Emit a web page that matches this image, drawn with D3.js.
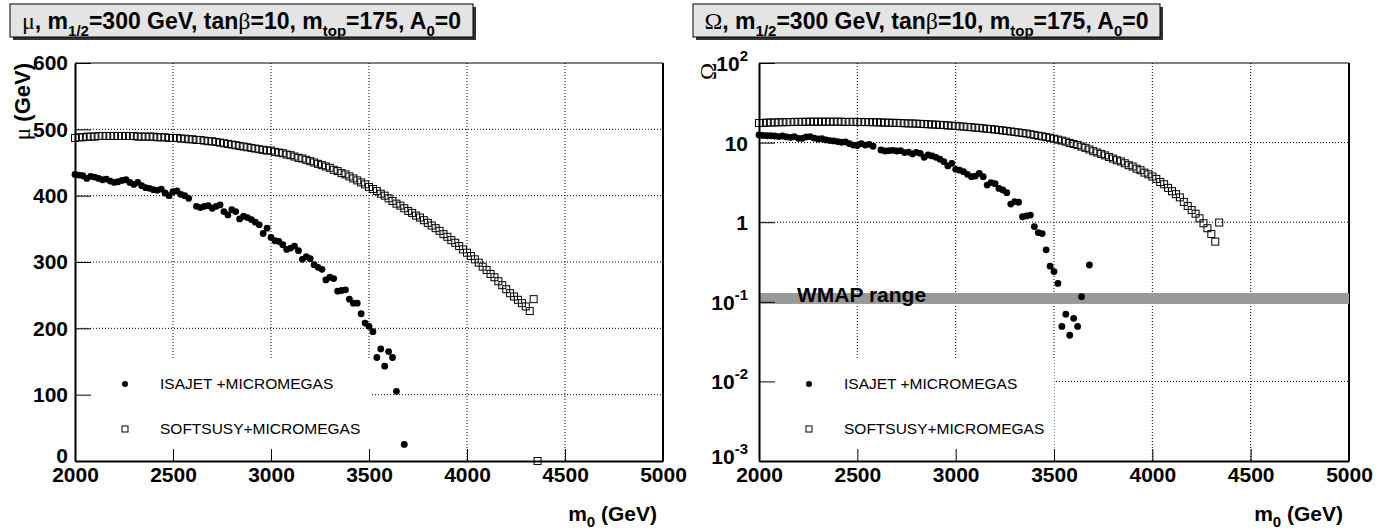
<!DOCTYPE html>
<html>
<head>
<meta charset="utf-8">
<script src="https://cdn.jsdelivr.net/npm/d3@7"></script>
<style>
  body { margin: 0; background: #fff; }
  text { font-family: "Liberation Sans", Arial, Helvetica, sans-serif; }
</style>
</head>
<body>
<script>
// m0 scan grid (GeV): first point and step
var m0Start = 2000, m0Step = 20;

// mu (GeV) vs m0, ISAJET+MICROMEGAS (null = no point)
var isajetMu = [432,431,430,426,429,428,426,424,425,422,
  420,421,423,424,420,417,420,415,412,411,
  409,408,410,404,400,406,407,402,400,396,
  null,384,382,384,385,381,384,386,376,371,
  379,376,365,369,367,364,360,356,343,351,
  337,332,331,326,319,321,324,317,304,308,
  305,296,292,289,273,277,275,256,257,258,
  244,238,238,222,208,203,195,156,169,143,
  165,156,105,null,25];

// mu (GeV) vs m0, SOFTSUSY+MICROMEGAS
var softsusyMu = [487,488,488,489,489,489,490,490,490,490,
  490,490,490,490,490,490,489,489,489,489,
  489,488,488,488,487,487,487,486,486,485,
  485,484,484,483,482,482,481,480,479,478,
  477,476,475,474,473,472,471,470,469,468,
  468,466,465,464,462,461,459,457,456,454,
  452,450,448,446,444,442,439,437,434,432,
  429,426,423,420,417,413,410,407,403,400,
  396,392,388,385,381,377,374,370,367,363,
  359,355,351,347,342,338,333,329,324,319,
  314,309,304,299,293,288,282,277,271,265,
  259,253,248,243,238,233,226,244,0];

// Omega vs m0, ISAJET+MICROMEGAS
var isajetOmega = [12.5,12.3,12.2,12.2,12.1,11.9,12.1,11.8,11.6,11.9,
  11.3,11.3,11.8,11.9,11.4,11.1,11.2,10.8,10.6,10.5,
  10.3,10.1,10.2,9.7,9.3,9.2,9.7,9.3,9.5,9.0,
  null,8.07,7.84,7.92,8.0,7.84,7.92,7.5,7.6,7.2,
  7.55,7.33,6.53,6.99,6.8,6.53,6.2,5.76,5.1,5.49,
  4.62,4.5,4.31,4.0,3.73,3.8,4.11,3.73,2.93,3.15,
  3.05,2.66,2.54,2.35,1.69,1.81,1.78,1.17,1.2,1.23,
  0.88,0.74,0.72,0.45,0.28,0.24,0.17,0.049,0.070,0.038,
  0.062,0.049,0.116,null,0.29];

// Omega vs m0, SOFTSUSY+MICROMEGAS
var softsusyOmega = [17.6,17.7,17.8,17.9,17.9,18.0,18.0,18.1,18.1,18.2,
  18.2,18.2,18.3,18.3,18.3,18.3,18.3,18.3,18.3,18.3,
  18.3,18.3,18.2,18.2,18.2,18.2,18.1,18.1,18.1,18.0,
  18.0,17.9,17.8,17.8,17.7,17.7,17.6,17.5,17.4,17.4,
  17.3,17.2,17.1,17.0,16.9,16.8,16.7,16.6,16.4,16.3,
  16.2,16.0,15.9,15.7,15.6,15.4,15.3,15.1,14.9,14.8,
  14.6,14.4,14.2,14.0,13.8,13.6,13.4,13.2,13.0,12.7,
  12.5,12.2,12.0,11.7,11.5,11.2,10.9,10.6,10.3,9.9,
  9.6,9.3,8.9,8.6,8.2,7.8,7.5,7.2,6.9,6.6,
  6.3,6.0,5.8,5.5,5.2,5.0,4.7,4.5,4.2,4.0,
  3.75,3.5,3.2,3.0,2.7,2.45,2.25,2.05,1.8,1.6,
  1.42,1.28,1.12,0.97,0.84,0.71,0.57,0.99];

var wmapRange = [0.094, 0.129];

// axis ticks
var xTicks = [2000, 2500, 3000, 3500, 4000, 4500, 5000];
var xMinor = [2100,2200,2300,2400,2600,2700,2800,2900,3100,3200,3300,3400,
  3600,3700,3800,3900,4100,4200,4300,4400,4600,4700,4800,4900];
var muTicks = [0, 100, 200, 300, 400, 500, 600];
var muMinor = [20,40,60,80,120,140,160,180,220,240,260,280,320,340,360,380,
  420,440,460,480,520,540,560,580];
var omegaTicks = [1e-3, 1e-2, 1e-1, 1, 10, 100];
var omegaLabels = [["10","-3"], ["10","-2"], ["10","-1"], ["1",""], ["10",""], ["10","2"]];
var omegaMinor = [2e-3,3e-3,4e-3,5e-3,6e-3,7e-3,8e-3,9e-3,
  2e-2,3e-2,4e-2,5e-2,6e-2,7e-2,8e-2,9e-2,
  0.2,0.3,0.4,0.5,0.6,0.7,0.8,0.9,
  2,3,4,5,6,7,8,9, 20,30,40,50,60,70,80,90];

var legendLabels = ["ISAJET +MICROMEGAS", "SOFTSUSY+MICROMEGAS"];

var W = 1388, H = 529;
var svg = d3.select("body").append("svg")
    .attr("width", W)
    .attr("height", H);

function series(values) {
  return values.map(function(v, i) { return {m0: m0Start + i * m0Step, v: v}; })
    .filter(function(d) { return d.v !== null; });
}

function drawTitle(bx, bw, sym) {
  var g = svg.append("g");
  g.append("rect").attr("x", bx + 3).attr("y", 7).attr("width", bw).attr("height", 33)
    .attr("fill", "#333");
  g.append("rect").attr("x", bx).attr("y", 4).attr("width", bw).attr("height", 33)
    .attr("fill", "#e4e4e4").attr("stroke", "#000").attr("stroke-width", 1);
  var t = g.append("text")
      .attr("x", bx + bw / 2).attr("y", 29)
      .attr("text-anchor", "middle")
      .attr("font-size", 23).attr("font-weight", "bold");
  // [text, kind]  kind: 0 normal, 1 symbol, 2 subscript
  var parts = [[sym,1],[", m",0],["1/2",2],["=300 GeV, tan",0],["\u03b2",1],["=10, m",0],
    ["top",2],["=175, A",0],["0",2],["=0",0]];
  var shift = 0;
  parts.forEach(function(p) {
    var s = t.append("tspan").text(p[0]);
    var want = p[1] === 2 ? 7 : 0;
    if (want !== shift) { s.attr("dy", want - shift); shift = want; }
    if (p[1] === 1) s.attr("font-family", "'Liberation Serif', 'Times New Roman', serif").attr("font-weight", "normal").attr("font-size", 24);
    if (p[1] === 2) s.attr("font-size", 15);
  });
}

function drawPanel(o) {
  var g = svg.append("g");
  var x = d3.scaleLinear().domain([2000, 5000]).range([o.x0, o.x1]);
  var y = o.y;

  // grid
  g.append("g").selectAll("line").data(xTicks.slice(1, -1)).join("line")
    .attr("x1", x).attr("x2", x).attr("y1", o.y0).attr("y2", o.y1)
    .attr("stroke", "#000").attr("stroke-width", 1).attr("stroke-dasharray", "1,2");
  g.append("g").selectAll("line").data(o.gridY).join("line")
    .attr("x1", o.x0).attr("x2", o.x1).attr("y1", y).attr("y2", y)
    .attr("stroke", "#000").attr("stroke-width", 1).attr("stroke-dasharray", "1,2");

  // top / right frame
  g.append("line").attr("x1", o.x0).attr("x2", o.x1).attr("y1", o.y0).attr("y2", o.y0)
    .attr("stroke", "#000").attr("stroke-width", 1);
  g.append("line").attr("x1", o.x1).attr("x2", o.x1).attr("y1", o.y0).attr("y2", o.y1)
    .attr("stroke", "#000").attr("stroke-width", 2);

  if (o.band) {
    g.append("rect").attr("x", o.x0).attr("width", o.x1 - o.x0)
      .attr("y", y(o.band[1])).attr("height", y(o.band[0]) - y(o.band[1]))
      .attr("fill", "#999");
    g.append("text").attr("x", o.x0 + 38).attr("y", 302)
      .attr("font-size", 21).attr("font-weight", "bold").text("WMAP range");
  }

  // points
  g.append("g").selectAll("rect").data(series(o.squares)).join("rect")
    .attr("x", function(d) { return x(d.m0) - 3.5; })
    .attr("y", function(d) { return y(d.v) - 3.5; })
    .attr("width", 7).attr("height", 7)
    .attr("fill", "none").attr("stroke", "#000").attr("stroke-width", 1);
  g.append("g").selectAll("circle").data(series(o.dots)).join("circle")
    .attr("cx", function(d) { return x(d.m0); })
    .attr("cy", function(d) { return y(d.v); })
    .attr("r", 3.4).attr("fill", "#000");

  // legend
  var lg = g.append("g");
  lg.append("rect").attr("x", o.x0 + 1).attr("y", 360).attr("width", 294).attr("height", o.y1 - 361)
    .attr("fill", "#fff");
  lg.append("circle").attr("cx", o.x0 + 50).attr("cy", 384).attr("r", 3).attr("fill", "#000");
  lg.append("rect").attr("x", o.x0 + 47).attr("y", 426).attr("width", 6).attr("height", 6)
    .attr("fill", "none").attr("stroke", "#000");
  lg.selectAll("text").data(legendLabels).join("text")
    .attr("x", o.x0 + 85)
    .attr("y", function(d, i) { return i === 0 ? 384 : 429; })
    .attr("dy", "0.35em")
    .attr("font-size", 15.5)
    .text(function(d) { return d; });

  // x axis
  var xa = g.append("g").attr("transform", "translate(0," + o.y1 + ")");
  xa.call(d3.axisBottom(x).tickValues(xMinor).tickSize(-6).tickSizeOuter(0).tickFormat(""));
  xa.call(d3.axisBottom(x).tickValues(xTicks).tickSize(-12).tickSizeOuter(0).tickPadding(6)
    .tickFormat(d3.format("d")));
  xa.selectAll(".domain").attr("stroke-width", 2);
  xa.selectAll("text").attr("font-size", 21).attr("font-weight", "bold")
    .attr("font-family", "'Liberation Sans', Arial, sans-serif").attr("fill", "#000");
  xa.selectAll("line").attr("stroke-width", 1);

  // y axis
  var ya = g.append("g").attr("transform", "translate(" + o.x0 + ",0)");
  ya.call(d3.axisLeft(y).tickValues(o.minor).tickSize(-8).tickSizeOuter(0).tickFormat(""));
  var maj = d3.axisLeft(y).tickValues(o.ticks).tickSize(-16).tickSizeOuter(0).tickPadding(7);
  if (o.labels) maj.tickFormat("");
  ya.call(maj);
  ya.selectAll(".domain").attr("stroke-width", 2);
  ya.selectAll("text").attr("font-size", 21).attr("font-weight", "bold")
    .attr("font-family", "'Liberation Sans', Arial, sans-serif").attr("fill", "#000");
  // lift the bottom label a little so it clears the x labels
  ya.selectAll(".tick text").filter(function(d) { return d === 0; }).attr("dy", "0.08em");
  if (o.labels) {
    var lt = g.append("g").selectAll("text").data(o.ticks).join("text")
      .attr("x", o.x0 - 11).attr("y", function(d, i) { return y(d) + (i === 0 ? 3 : 8); })
      .attr("text-anchor", "end").attr("font-size", 21).attr("font-weight", "bold");
    lt.append("tspan").text(function(d, i) { return o.labels[i][0]; });
    lt.append("tspan").attr("dy", -10).attr("font-size", 15)
      .text(function(d, i) { return o.labels[i][1]; });
  }

  // axis titles
  var xt = g.append("text").attr("x", o.x1 - 6).attr("y", 521)
    .attr("text-anchor", "end").attr("font-size", 21).attr("font-weight", "bold");
  xt.append("tspan").text("m");
  xt.append("tspan").attr("dy", 6).attr("font-size", 15).text("0");
  xt.append("tspan").attr("dy", -6).text(" (GeV)");

  var yt = g.append("text")
    .attr("transform", "translate(" + o.yTitleX + "," + o.y0 + ") rotate(-90)")
    .attr("text-anchor", "end").attr("font-size", 22).attr("font-weight", "bold");
  yt.append("tspan").attr("font-family", "'Liberation Serif', 'Times New Roman', serif")
    .attr("font-weight", "normal").attr("font-size", 23).text(o.yTitle[0]);
  if (o.yTitle[1]) yt.append("tspan").text(o.yTitle[1]);
}

drawPanel({
  x0: 75, x1: 663, y0: 63, y1: 461,
  y: d3.scaleLinear().domain([0, 600]).range([461, 63]),
  ticks: muTicks, minor: muMinor, gridY: muTicks.slice(1, -1),
  dots: isajetMu, squares: softsusyMu,
  yTitle: ["\u03bc", " (GeV)"], yTitleX: 30
});

drawPanel({
  x0: 759, x1: 1349, y0: 63, y1: 461,
  y: d3.scaleLog().domain([1e-3, 1e2]).range([461, 63]),
  ticks: omegaTicks, labels: omegaLabels, minor: omegaMinor, gridY: omegaTicks.slice(1, -1),
  dots: isajetOmega, squares: softsusyOmega, band: wmapRange,
  yTitle: ["\u03a9", ""], yTitleX: 716
});

drawTitle(10, 463, "\u03bc");
drawTitle(693, 467, "\u03a9");
</script>
</body>
</html>
